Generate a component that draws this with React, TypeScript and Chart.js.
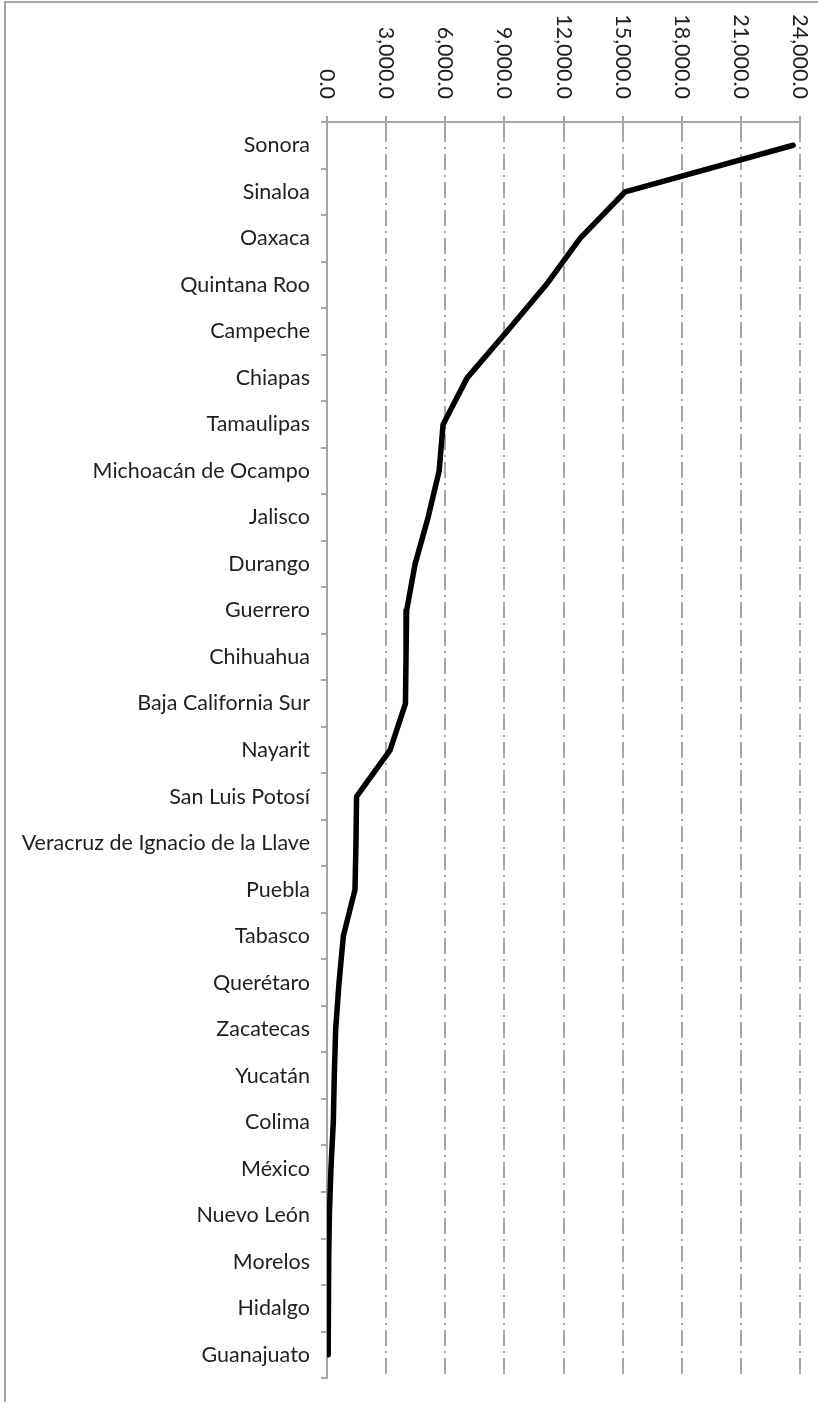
import React, { useEffect, useRef } from "react";
import { Chart, registerables } from "chart.js";

Chart.register(...registerables);

const states = [
  "Sonora",
  "Sinaloa",
  "Oaxaca",
  "Quintana Roo",
  "Campeche",
  "Chiapas",
  "Tamaulipas",
  "Michoacán de Ocampo",
  "Jalisco",
  "Durango",
  "Guerrero",
  "Chihuahua",
  "Baja California Sur",
  "Nayarit",
  "San Luis Potosí",
  "Veracruz de Ignacio de la Llave",
  "Puebla",
  "Tabasco",
  "Querétaro",
  "Zacatecas",
  "Yucatán",
  "Colima",
  "México",
  "Nuevo León",
  "Morelos",
  "Hidalgo",
  "Guanajuato",
];

const values = [
  23650, 15130, 12840, 11120, 9140, 7110, 5890, 5690, 5130, 4470, 4040, 4010,
  3980, 3200, 1500, 1470, 1420, 830, 610, 440, 370, 320, 200, 120, 85, 65, 55,
];

const xTicks = [0, 3000, 6000, 9000, 12000, 15000, 18000, 21000, 24000];

const FONT_FAMILY = "Lato";
const TEXT_COLOR = "#1f1f1f";
const AXIS_COLOR = "#A6A6A6";

function fmt(v: number): string {
  return v.toLocaleString("en-US", { minimumFractionDigits: 1, maximumFractionDigits: 1 });
}

export default function App() {
  const ref = useRef<HTMLCanvasElement | null>(null);

  useEffect(() => {
    const canvas = ref.current;
    if (!canvas) return;
    const ctx0 = canvas.getContext("2d")!;
    ctx0.font = `100px ${FONT_FAMILY}`;
    const w = ctx0.measureText("Veracruz de Ignacio de la Llave").width;
    const fontSize = Math.round(((100 * 290) / w) * 2) / 2;

    const customAxis = {
      id: "customAxis",
      beforeDatasetsDraw(chart: any) {
        const { ctx, chartArea } = chart;
        const xs = chart.scales.x;
        ctx.save();
        ctx.strokeStyle = AXIS_COLOR;
        ctx.lineWidth = 2;
        ctx.setLineDash([16, 5, 2, 5]);
        xTicks.forEach((v) => {
          if (v === 0) return;
          const px = Math.round(xs.getPixelForValue(v));
          ctx.beginPath();
          ctx.moveTo(px, chartArea.top + 4);
          ctx.lineTo(px, chartArea.bottom);
          ctx.stroke();
        });
        ctx.setLineDash([]);
        ctx.lineWidth = 2;
        ctx.beginPath();
        ctx.moveTo(chartArea.left, chartArea.top);
        ctx.lineTo(xs.getPixelForValue(24000) + 1, chartArea.top);
        ctx.stroke();
        xTicks.forEach((v) => {
          const px = Math.round(xs.getPixelForValue(v));
          ctx.beginPath();
          ctx.moveTo(px, chartArea.top - 6);
          ctx.lineTo(px, chartArea.top + 5);
          ctx.stroke();
        });
        ctx.restore();
      },
      afterDraw(chart: any) {
        const { ctx, chartArea } = chart;
        const xs = chart.scales.x;
        ctx.save();
        ctx.fillStyle = TEXT_COLOR;
        ctx.font = `${fontSize}px ${FONT_FAMILY}`;
        ctx.textAlign = "right";
        ctx.textBaseline = "middle";
        xTicks.forEach((v) => {
          const px = xs.getPixelForValue(v);
          ctx.save();
          ctx.translate(px, chartArea.top - 23);
          ctx.rotate(Math.PI / 2);
          ctx.fillText(fmt(v), 0, 0);
          ctx.restore();
        });
        ctx.strokeStyle = AXIS_COLOR;
        ctx.lineWidth = 2;
        ctx.beginPath();
        ctx.moveTo(5, 1402);
        ctx.lineTo(5, 2);
        ctx.lineTo(818, 2);
        ctx.stroke();
        ctx.restore();
      },
    };

    const chart = new Chart(canvas, {
      type: "line",
      data: {
        labels: states,
        datasets: [
          {
            data: values,
            borderColor: "#000000",
            backgroundColor: "#000000",
            borderWidth: 5.5,
            borderCapStyle: "round",
            borderJoinStyle: "round",
            pointRadius: 0,
            pointHoverRadius: 0,
            tension: 0,
            fill: false,
          },
        ],
      },
      options: {
        indexAxis: "y",
        animation: false,
        responsive: false,
        devicePixelRatio: 1,
        layout: { padding: { left: 0, top: 0, right: 18, bottom: 19 } },
        plugins: {
          legend: { display: false },
          tooltip: { enabled: false },
          title: { display: false },
        },
        scales: {
          x: {
            type: "linear",
            position: "top",
            min: 0,
            max: 24000,
            ticks: { display: false, stepSize: 3000 },
            grid: { display: false },
            border: { display: false },
            afterFit(scale: any) {
              scale.height = 122;
            },
          },
          y: {
            type: "category",
            position: "left",
            offset: true,
            ticks: {
              autoSkip: false,
              color: TEXT_COLOR,
              padding: 11,
              font: { family: FONT_FAMILY, size: fontSize },
            },
            grid: {
              display: true,
              offset: true,
              drawOnChartArea: false,
              drawTicks: true,
              tickLength: 6,
              color: AXIS_COLOR,
              lineWidth: 2,
            },
            border: { display: true, color: AXIS_COLOR, width: 2 },
            afterFit(scale: any) {
              scale.width = 327;
            },
          },
        },
      },
      plugins: [customAxis],
    } as any);

    return () => chart.destroy();
  }, []);

  return (
    <div style={{ position: "absolute", left: 0, top: 0, width: 818, height: 1402, background: "#fff" }}>
      <canvas ref={ref} width={818} height={1402} style={{ display: "block", width: 818, height: 1402 }} />
    </div>
  );
}
